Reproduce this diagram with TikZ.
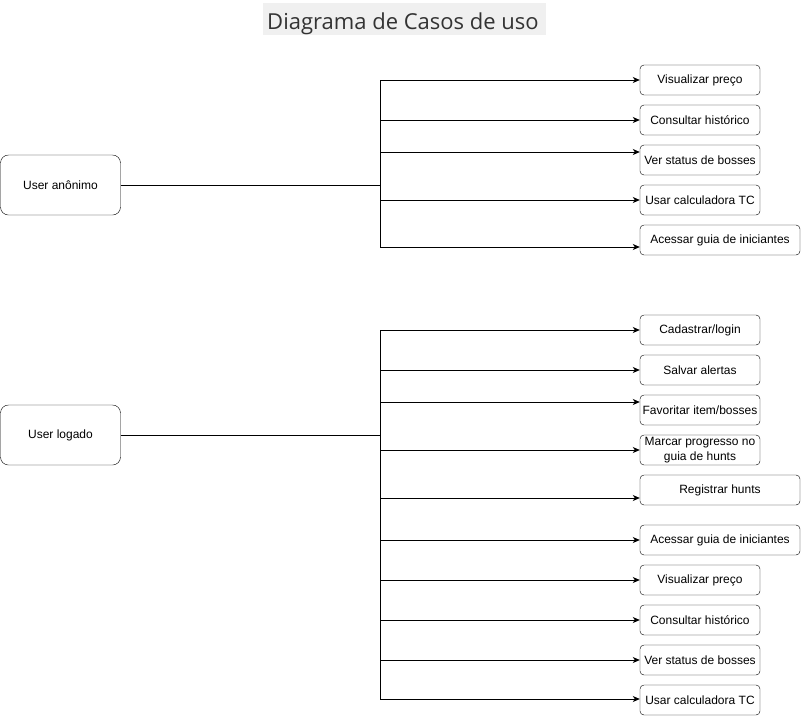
\documentclass[tikz,border=0pt]{standalone}
\usepackage{fontspec}
\setmainfont{Liberation Sans}
\newfontfamily\titlefont{Open Sans}
\usetikzlibrary{arrows.meta}
\begin{document}
\begin{tikzpicture}[x=1pt,y=-1pt,
  actor/.style={draw,rounded corners=8pt,minimum width=120pt,minimum height=60pt,inner sep=0pt,font=\fontsize{12}{14}\selectfont},
  uc/.style={draw,rounded corners=4pt,minimum width=120pt,minimum height=30pt,inner sep=0pt,align=center,font=\fontsize{12}{14}\selectfont},
  ucw/.style={uc,minimum width=160pt},
  arr/.style={-{Stealth[length=7pt,width=6pt,inset=2pt]},line width=0.9pt},
  ln/.style={line width=0.9pt}]
\useasboundingbox (0,0) rectangle (801,716);
\fill[gray!12] (263,3) rectangle (546,35);
\node[inner sep=0pt,text=black!80,font=\titlefont\fontsize{22}{24}\selectfont,anchor=base] (title) at (403,29) {Diagrama de Casos de uso};
% actors
\node[actor] (ua) at (60.5,185) {User anônimo};
\node[actor] (ul) at (60.5,435) {User logado};
\coordinate (ta) at (380,185);
\coordinate (tl) at (380,435);
% top use cases
\node[uc] (a1) at (700,80) {Visualizar preço};
\node[uc] (a2) at (700,120) {Consultar histórico};
\node[uc] (a3) at (700,160) {Ver status de bosses};
\node[uc] (a4) at (700,200) {Usar calculadora TC};
\node[ucw] (a5) at (720,240) {Acessar guia de iniciantes};
% bottom use cases
\node[uc] (b1) at (700,330) {Cadastrar/login};
\node[uc] (b2) at (700,370) {Salvar alertas};
\node[uc] (b3) at (700,410) {Favoritar item/bosses};
\node[uc,font=\fontsize{12}{15}\selectfont] (b4) at (700,450) {Marcar progresso no\\guia de hunts};
\node[ucw] (b5) at (720,490) {Registrar hunts};
\node[ucw] (b6) at (720,540) {Acessar guia de iniciantes};
\node[uc] (b7) at (700,580) {Visualizar preço};
\node[uc] (b8) at (700,620) {Consultar histórico};
\node[uc] (b9) at (700,660) {Ver status de bosses};
\node[uc] (b10) at (700,700) {Usar calculadora TC};
% connectors top
\draw[ln] (ua.east) -- (ta);
\draw[arr] (ta) |- (a1.west);
\draw[arr] (ta) |- (a2.west);
\draw[arr] (ta) |- ([yshift=8pt]a3.west);
\draw[arr] (ta) |- (a4.west);
\draw[arr] (ta) |- ([yshift=-7pt]a5.west);
% connectors bottom
\draw[ln] (ul.east) -- (tl);
\draw[arr] (tl) |- (b1.west);
\draw[arr] (tl) |- (b2.west);
\draw[arr] (tl) |- ([yshift=8pt]b3.west);
\draw[arr] (tl) |- (b4.west);
\draw[arr] (tl) |- ([yshift=-8pt]b5.west);
\draw[arr] (tl) |- (b6.west);
\draw[arr] (tl) |- (b7.west);
\draw[arr] (tl) |- (b8.west);
\draw[arr] (tl) |- (b9.west);
\draw[arr] (tl) |- ([yshift=1pt]b10.west);
\end{tikzpicture}
\end{document}
